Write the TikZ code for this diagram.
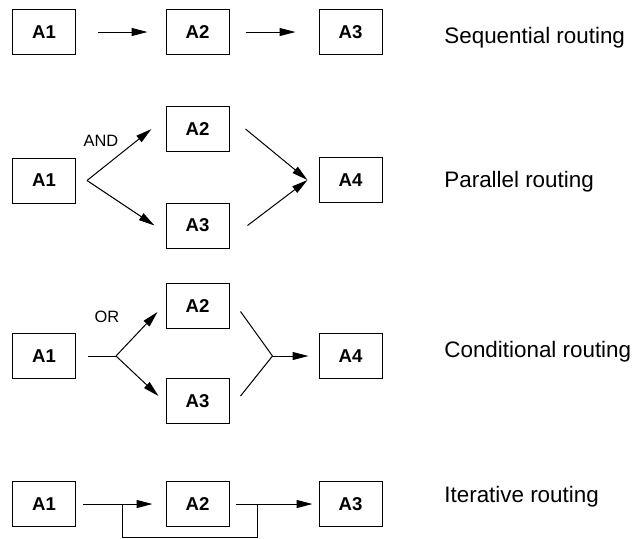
\documentclass[tikz,border=0pt]{standalone}
\usepackage{amsmath}
\usepackage{fontspec}
\setmainfont{Liberation Sans}
\usepackage{tikz}
\usetikzlibrary{arrows.meta,positioning}

\tikzset{
  task/.style={draw=black, line width=0.5pt, minimum width=31.5pt, minimum height=22.5pt,
               inner sep=0pt, font=\fontsize{9.3}{11}\selectfont\bfseries},
  kind/.style={anchor=base west, inner sep=0pt, font=\fontsize{11.2}{13}\selectfont},
  gate/.style={inner sep=0pt, font=\fontsize{8.2}{10}\selectfont},
  flow/.style={line width=0.5pt, -{Triangle[length=8pt,width=4pt]}},
  wire/.style={line width=0.5pt}
}

\begin{document}
\begin{tikzpicture}[x=0.5pt,y=-0.5pt]
                    \useasboundingbox (0,0) rectangle (633,538);
                    % sequential
                    \node[task] (s1) at (44,32) {A1};
                    \node[task] (s2) at (197.5,32) {A2};
                    \node[task] (s3) at (350.5,32) {A3};
                    \draw[flow, shorten <=11pt, shorten >=9pt] (s1.east) -- (s2.west);
                    \draw[flow, shorten <=8pt, shorten >=11.5pt] (s2.east) -- (s3.west);
                    \node[kind] (ks) at (444,43.5) {Sequential routing};
                    % parallel
                    \node[task] (p1) at (44,180.5) {A1};
                    \node[task] (p2) at (197.5,129) {A2};
                    \node[task] (p3) at (197.5,225.5) {A3};
                    \node[task] (p4) at (350.5,180) {A4};
                    \coordinate[right=5.5pt of p1] (pand);
                    \draw[flow] (pand) -- ([xshift=-7pt]p2.west);
                    \draw[flow] (pand) -- ([xshift=-5.5pt]p3.west);
                    \draw[flow] ([xshift=8pt]p2.east) -- ([xshift=-5.5pt]p4.west);
                    \draw[flow] ([xshift=9pt]p3.east) -- ([xshift=-5.5pt]p4.west);
                    \node[gate] (and) at (101,140.5) {AND};
                    \node[kind] (kp) at (444,187) {Parallel routing};
                    % conditional
                    \node[task] (c1) at (44,356) {A1};
                    \node[task] (c2) at (197.5,305.5) {A2};
                    \node[task] (c3) at (197.5,401) {A3};
                    \node[task] (c4) at (350.5,356) {A4};
                    \coordinate[right=20pt of c1] (cor);
                    \coordinate[left=23pt of c4] (cjoin);
                    \draw[wire, shorten <=6pt] (c1.east) -- (cor);
                    \draw[flow] (cor) -- ([xshift=-4pt,yshift=-3.25pt]c2.west);
                    \draw[flow] (cor) -- ([xshift=-3.5pt,yshift=2.5pt]c3.west);
                    \draw[wire] ([xshift=5.5pt,yshift=-3pt]c2.east) -- (cjoin)
                                -- ([xshift=5.5pt,yshift=2.5pt]c3.east);
                    \draw[flow, shorten >=5pt] (cjoin) -- (c4.west);
                    \node[gate] (or) at (107,317) {OR};
                    \node[kind] (kc) at (444,357) {Conditional routing};
                    % iterative
                    \node[task] (i1) at (44,504) {A1};
                    \node[task] (i2) at (197.5,504) {A2};
                    \node[task] (i3) at (350.5,504) {A3};
                    \draw[flow, shorten <=3.5pt, shorten >=6.5pt] (i1.east) -- (i2.west);
                    \draw[flow, shorten <=3pt, shorten >=3pt] (i2.east) -- (i3.west);
                    \coordinate[right=23pt of i1] (iback);
                    \coordinate[right=14pt of i2] (iloop);
                    \draw[wire] (iback) -- ++(0,-16.5pt) -| (iloop);
                    \node[kind] (ki) at (444,502) {Iterative routing};
                \end{tikzpicture}
\end{document}
